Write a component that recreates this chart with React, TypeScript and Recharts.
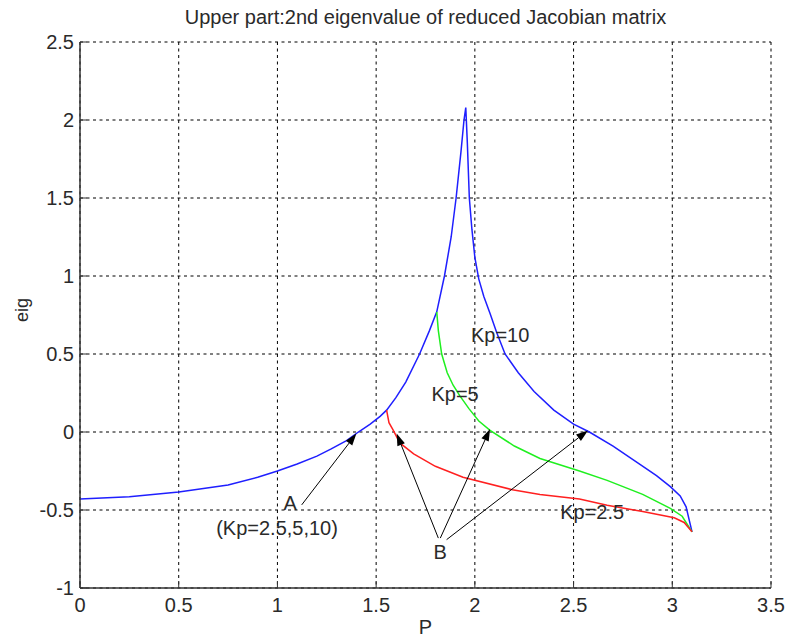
import React from 'react';
import {
  LineChart,
  Line,
  XAxis,
  YAxis,
  CartesianGrid,
  ReferenceLine,
  ReferenceDot,
} from 'recharts';

// Kp = 10 (blue), 5 (green), 2.5 (red): P vs 2nd eigenvalue
const kp10P = [0, 0.25, 0.5, 0.75, 0.9, 1.0, 1.1, 1.2, 1.27, 1.35, 1.41, 1.47, 1.52, 1.553, 1.6, 1.65, 1.72, 1.77, 1.807, 1.846, 1.88, 1.905, 1.93, 1.945, 1.954, 1.962, 1.972, 1.985, 2.0, 2.02, 2.045, 2.077, 2.11, 2.153, 2.22, 2.3, 2.4, 2.5, 2.58, 2.7, 2.84, 2.92, 2.99, 3.04, 3.07, 3.1];
const kp10Eig = [-0.43, -0.415, -0.385, -0.34, -0.29, -0.25, -0.205, -0.155, -0.11, -0.055, 0.0, 0.05, 0.1, 0.14, 0.22, 0.32, 0.5, 0.65, 0.77, 1.0, 1.25, 1.5, 1.8, 2.0, 2.08, 1.85, 1.5, 1.3, 1.12, 0.98, 0.87, 0.76, 0.64, 0.5, 0.38, 0.26, 0.14, 0.05, 0.0, -0.09, -0.21, -0.28, -0.35, -0.41, -0.48, -0.64];

const kp5P = [1.807, 1.815, 1.832, 1.86, 1.89, 1.925, 1.97, 2.02, 2.077, 2.2, 2.33, 2.53, 2.67, 2.85, 2.99, 3.05, 3.1];
const kp5Eig = [0.77, 0.65, 0.5, 0.38, 0.3, 0.23, 0.15, 0.07, 0.01, -0.09, -0.17, -0.25, -0.31, -0.4, -0.49, -0.54, -0.64];

const kp25P = [1.553, 1.565, 1.587, 1.62, 1.69, 1.8, 1.94, 2.19, 2.33, 2.53, 2.67, 2.85, 3.01, 3.06, 3.1];
const kp25Eig = [0.14, 0.06, 0.01, -0.07, -0.14, -0.22, -0.29, -0.37, -0.4, -0.43, -0.47, -0.51, -0.55, -0.58, -0.64];

const xTicks = [0, 0.5, 1, 1.5, 2, 2.5, 3, 3.5];
const yTicks = [-1, -0.5, 0, 0.5, 1, 1.5, 2, 2.5];

// annotation arrows: [tailP, tailEig, tipP, tipEig]
const arrows = [
  [1.123, -0.467, 1.4, -0.01],
  [1.815, -0.68, 1.604, -0.01],
  [1.825, -0.68, 2.077, 0.02],
  [1.857, -0.69, 2.573, 0.01],
];

const notes = [
  { text: 'A', p: 1.064, eig: -0.455 },
  { text: '(Kp=2.5,5,10)', p: 0.998, eig: -0.614 },
  { text: 'B', p: 1.824, eig: -0.768 },
  { text: 'Kp=10', p: 2.128, eig: 0.62 },
  { text: 'Kp=5', p: 1.9, eig: 0.243 },
  { text: 'Kp=2.5', p: 2.594, eig: -0.512 },
];

const zip = (ps: number[], es: number[]) => ps.map((p, i) => ({ p, eig: es[i] }));
const kp10Data = zip(kp10P, kp10Eig);
const kp5Data = zip(kp5P, kp5Eig);
const kp25Data = zip(kp25P, kp25Eig);

const FONT = '"Liberation Sans", Arial, sans-serif';
const TEXT = '#2a2a2a';
const AXIS = '#333';

const Arrow = (props: any) => {
  const { x1, y1, x2, y2 } = props;
  const a = Math.atan2(y2 - y1, x2 - x1);
  const len = 12;
  const w = 4;
  const bx = x2 - len * Math.cos(a);
  const by = y2 - len * Math.sin(a);
  const px = -Math.sin(a) * w;
  const py = Math.cos(a) * w;
  return (
    <g>
      <line x1={x1} y1={y1} x2={bx} y2={by} stroke="#000" strokeWidth={1} />
      <polygon points={`${x2},${y2} ${bx + px},${by + py} ${bx - px},${by - py}`} fill="#000" />
    </g>
  );
};

const App = () => {
  return (
    <div style={{ position: 'absolute', left: 0, top: 0, width: 789, height: 641, background: '#fff', fontFamily: FONT }}>
      <div
        style={{
          position: 'absolute',
          left: 80,
          width: 691,
          top: 5,
          textAlign: 'center',
          fontSize: 20,
          color: TEXT,
          lineHeight: '24px',
        }}
      >
        Upper part:2nd eigenvalue of reduced Jacobian matrix
      </div>
      <LineChart width={789} height={641} margin={{ top: 42, right: 18, bottom: 0, left: 0 }}>
        <CartesianGrid stroke="#000" strokeDasharray="3 3.5" strokeWidth={1} />
        <XAxis
          dataKey="p"
          type="number"
          domain={[0, 3.5]}
          ticks={xTicks}
          height={53}
          stroke={AXIS}
          axisLine={{ strokeWidth: 1.5 }}
          tickSize={-7}
          tickMargin={17}
          tick={{ fill: TEXT, fontSize: 20, fontFamily: FONT }}
          label={{ value: 'P', position: 'insideBottom', offset: 7, fill: TEXT, fontSize: 20, fontFamily: FONT }}
        />
        <XAxis
          xAxisId="top"
          orientation="top"
          dataKey="p"
          type="number"
          domain={[0, 3.5]}
          ticks={xTicks}
          height={0}
          stroke={AXIS}
          axisLine={{ strokeWidth: 1.5 }}
          tickSize={-7}
          tick={false}
        />
        <YAxis
          type="number"
          domain={[-1, 2.5]}
          ticks={yTicks}
          width={80}
          stroke={AXIS}
          axisLine={{ strokeWidth: 1.5 }}
          tickSize={-7}
          tickMargin={13}
          tick={{ fill: TEXT, fontSize: 20, fontFamily: FONT }}
          label={{
            content: (p: any) => {
              const vb = p.viewBox;
              const cx = vb.x + 22;
              const cy = vb.y + vb.height / 2 - 5;
              return (
                <text x={cx} y={cy} transform={`rotate(-90 ${cx} ${cy})`} textAnchor="middle" dominantBaseline="central" fill={TEXT} fontSize={18} fontFamily={FONT}>
                  eig
                </text>
              );
            },
          }}
        />
        <YAxis
          yAxisId="right"
          orientation="right"
          type="number"
          domain={[-1, 2.5]}
          ticks={yTicks}
          width={0}
          stroke={AXIS}
          axisLine={{ strokeWidth: 1.5 }}
          tickSize={-7}
          tick={false}
        />
        <Line data={kp10Data} dataKey="eig" type="linear" stroke="#1f1fff" strokeWidth={1.5} dot={false} isAnimationActive={false} />
        <Line data={kp5Data} dataKey="eig" type="linear" stroke="#1fef1f" strokeWidth={1.5} dot={false} isAnimationActive={false} />
        <Line data={kp25Data} dataKey="eig" type="linear" stroke="#ff2020" strokeWidth={1.5} dot={false} isAnimationActive={false} />
        {arrows.map((a, i) => (
          <ReferenceLine
            key={`arrow-${i}`}
            segment={[
              { x: a[0], y: a[1] },
              { x: a[2], y: a[3] },
            ]}
            shape={Arrow}
          />
        ))}
        {notes.map((n, i) => (
          <ReferenceDot
            key={`note-${i}`}
            x={n.p}
            y={n.eig}
            r={0}
            fill="none"
            stroke="none"
            label={{ value: n.text, position: 'center', fill: TEXT, fontSize: 20, fontFamily: FONT }}
          />
        ))}
      </LineChart>
    </div>
  );
};

export default App;
